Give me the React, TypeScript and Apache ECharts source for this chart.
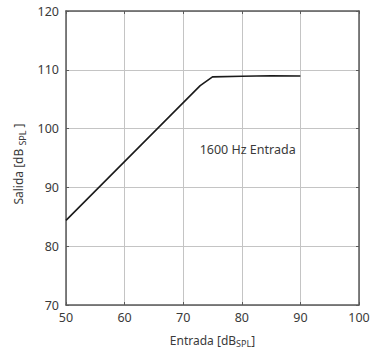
import React, { useEffect, useRef } from "react";
import * as echarts from "echarts";

const inputLevels = [50, 72.9, 75, 80, 85, 90];
const outputLevels = [84.4, 107.3, 108.8, 108.9, 109.0, 108.95];
const xTicks = [50, 60, 70, 80, 90, 100];
const yTicks = [70, 80, 90, 100, 110, 120];
const annotation = { text: "1600 Hz Entrada", x: 81, y: 96.5 };

const FONT = "Noto Sans";
const TXT = "#3a3a3a";
const FRAME = "#5a5a5a";
const GRID = "#c4c4c4";

export default function App() {
  const ref = useRef<HTMLDivElement>(null);
  useEffect(() => {
    if (!ref.current) return;
    const chart = echarts.init(ref.current, undefined, { renderer: "svg" });
    const data = inputLevels.map((x, i) => [x, outputLevels[i]]);
    const rich = {
      base: { fontFamily: FONT, fontSize: 12, color: TXT },
      sub: { fontFamily: FONT, fontSize: 9, color: TXT, padding: [7, 0, 0, 0] },
    };
    const frameAxis = {
      axisLine: { show: true, lineStyle: { color: FRAME, width: 1.5 } },
      axisTick: { show: true, inside: true, length: 3, lineStyle: { color: FRAME } },
    };
    chart.setOption({
      animation: false,
      backgroundColor: "#fff",
      textStyle: { fontFamily: FONT },
      grid: {
        left: 66,
        right: 15,
        top: 11,
        bottom: 46,
        containLabel: false,
        outerBoundsMode: "none",
      },
      xAxis: [
        {
          type: "value",
          min: xTicks[0],
          max: xTicks[xTicks.length - 1],
          interval: 10,
          position: "bottom",
          name: "{base|Entrada [dB}{sub|SPL}{base|]}",
          nameLocation: "middle",
          nameGap: 27,
          nameTextStyle: { rich, color: TXT },
          ...frameAxis,
          axisLabel: { color: TXT, fontFamily: FONT, fontSize: 12.5, margin: 6 },
          splitLine: { show: true, lineStyle: { color: GRID, width: 1 } },
        },
        {
          type: "value",
          min: xTicks[0],
          max: xTicks[xTicks.length - 1],
          interval: 10,
          position: "top",
          ...frameAxis,
          axisLabel: { show: false },
          splitLine: { show: false },
        },
      ],
      yAxis: [
        {
          type: "value",
          min: yTicks[0],
          max: yTicks[yTicks.length - 1],
          interval: 10,
          position: "left",
          name: "{base|Salida [dB }{sub|SPL}{base| ]}",
          nameLocation: "middle",
          nameGap: 37,
          nameRotate: 90,
          nameTextStyle: { rich, color: TXT, padding: [0, 12, 0, 0] },
          ...frameAxis,
          axisLabel: { color: TXT, fontFamily: FONT, fontSize: 12.5, margin: 7 },
          splitLine: { show: true, lineStyle: { color: GRID, width: 1 } },
        },
        {
          type: "value",
          min: yTicks[0],
          max: yTicks[yTicks.length - 1],
          interval: 10,
          position: "right",
          ...frameAxis,
          axisLabel: { show: false },
          splitLine: { show: false },
        },
      ],
      series: [
        {
          type: "line",
          data,
          showSymbol: false,
          symbol: "none",
          lineStyle: { color: "#1a1a1a", width: 1.6 },
          markPoint: {
            symbol: "circle",
            symbolSize: 0,
            data: [{ coord: [annotation.x, annotation.y], value: annotation.text }],
            label: {
              show: true,
              position: "inside",
              formatter: annotation.text,
              color: TXT,
              fontFamily: FONT,
              fontSize: 12.5,
            },
          },
        },
      ],
    });
    return () => chart.dispose();
  }, []);
  return (
    <div
      ref={ref}
      style={{ position: "fixed", left: 0, top: 0, width: 374, height: 351 }}
    />
  );
}
